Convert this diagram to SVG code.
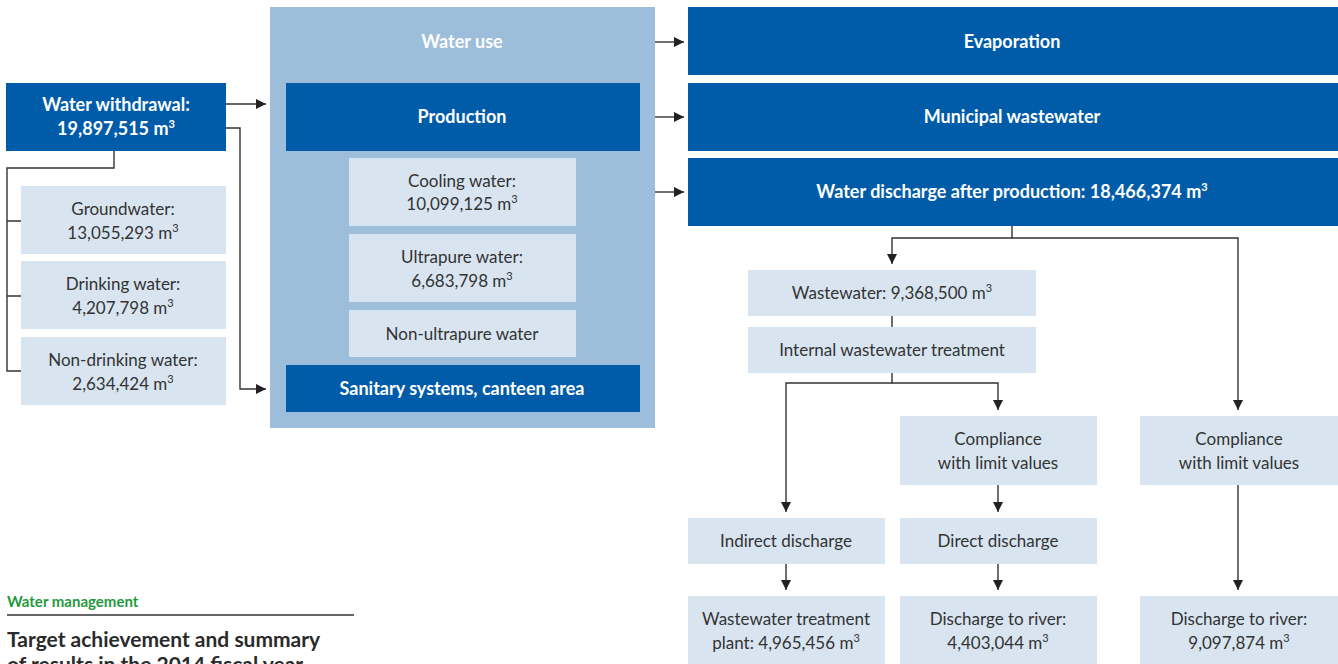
<svg xmlns="http://www.w3.org/2000/svg" width="1338" height="664" viewBox="0 0 1338 664">
<style>
text{font-family:"Source Sans Pro","Lato","Noto Sans",sans-serif;font-size:17px;text-anchor:middle}
.d{fill:#005ca9}
.l{fill:#d8e5f1}
.c{fill:#9cbedb}
.w{fill:#fff;font-weight:bold;font-size:18px}
.k{fill:#333}
.sup{font-size:11px}
.ln{fill:none;stroke:#333;stroke-width:1.4}
</style>
<defs>
<marker id="a" viewBox="0 0 10 10" refX="10" refY="5" markerWidth="10" markerHeight="10" markerUnits="userSpaceOnUse" orient="auto">
<path d="M0,0 L10,5 L0,10 Z" fill="#222"/>
</marker>
</defs>
<rect x="0" y="0" width="1338" height="664" fill="#fff"/>

<g id="water-use">
<rect class="c" x="270" y="7" width="385" height="421"/>
<text class="w" x="462" y="48">Water use</text>
</g>
<g id="production">
<rect class="d" x="286" y="83" width="354" height="68"/>
<text class="w" x="462" y="123">Production</text>
</g>
<g id="cooling">
<rect class="l" x="349" y="158" width="227" height="68"/>
<text class="k" x="462" y="187">Cooling water:</text>
<text class="k" x="462" y="210">10,099,125 m<tspan class="sup" dy="-7">3</tspan></text>
</g>
<g id="ultrapure">
<rect class="l" x="349" y="234" width="227" height="68"/>
<text class="k" x="462" y="263">Ultrapure water:</text>
<text class="k" x="462" y="287">6,683,798 m<tspan class="sup" dy="-7">3</tspan></text>
</g>
<g id="non-ultrapure">
<rect class="l" x="349" y="310" width="227" height="47"/>
<text class="k" x="462" y="340">Non-ultrapure water</text>
</g>
<g id="sanitary">
<rect class="d" x="286" y="365" width="354" height="47"/>
<text class="w" x="462" y="395">Sanitary systems, canteen area</text>
</g>

<g id="withdrawal">
<rect class="d" x="6" y="83" width="220" height="68"/>
<text class="w" x="116" y="111">Water withdrawal:</text>
<text class="w" x="116" y="135">19,897,515 m<tspan class="sup" dy="-7">3</tspan></text>
</g>
<g id="groundwater">
<rect class="l" x="21" y="186" width="205" height="68"/>
<text class="k" x="123" y="215">Groundwater:</text>
<text class="k" x="123" y="239">13,055,293 m<tspan class="sup" dy="-7">3</tspan></text>
</g>
<g id="drinking">
<rect class="l" x="21" y="261" width="205" height="68"/>
<text class="k" x="123" y="290">Drinking water:</text>
<text class="k" x="123" y="314">4,207,798 m<tspan class="sup" dy="-7">3</tspan></text>
</g>
<g id="non-drinking">
<rect class="l" x="21" y="337" width="205" height="68"/>
<text class="k" x="123" y="366">Non-drinking water:</text>
<text class="k" x="123" y="390">2,634,424 m<tspan class="sup" dy="-7">3</tspan></text>
</g>

<g id="evaporation">
<rect class="d" x="688" y="7" width="650" height="68"/>
<text class="w" x="1012" y="48">Evaporation</text>
</g>
<g id="municipal">
<rect class="d" x="688" y="83" width="650" height="68"/>
<text class="w" x="1012" y="123">Municipal wastewater</text>
</g>
<g id="discharge">
<rect class="d" x="688" y="158" width="650" height="68"/>
<text class="w" x="1012" y="198">Water discharge after production: 18,466,374 m<tspan class="sup" dy="-7">3</tspan></text>
</g>
<g id="wastewater">
<rect class="l" x="748" y="270" width="288" height="46"/>
<text class="k" x="892" y="299">Wastewater: 9,368,500 m<tspan class="sup" dy="-7">3</tspan></text>
</g>
<g id="internal">
<rect class="l" x="748" y="327" width="288" height="46"/>
<text class="k" x="892" y="356">Internal wastewater treatment</text>
</g>
<g id="compliance1">
<rect class="l" x="900" y="416" width="197" height="69"/>
<text class="k" x="998" y="445">Compliance</text>
<text class="k" x="998" y="469">with limit values</text>
</g>
<g id="compliance2">
<rect class="l" x="1140" y="416" width="198" height="69"/>
<text class="k" x="1239" y="445">Compliance</text>
<text class="k" x="1239" y="469">with limit values</text>
</g>
<g id="indirect">
<rect class="l" x="688" y="518" width="197" height="46"/>
<text class="k" x="786" y="547">Indirect discharge</text>
</g>
<g id="direct">
<rect class="l" x="900" y="518" width="197" height="46"/>
<text class="k" x="998" y="547">Direct discharge</text>
</g>
<g id="treatment-plant">
<rect class="l" x="688" y="596" width="197" height="68"/>
<text class="k" x="786" y="625">Wastewater treatment</text>
<text class="k" x="786" y="649">plant: 4,965,456 m<tspan class="sup" dy="-7">3</tspan></text>
</g>
<g id="river1">
<rect class="l" x="900" y="596" width="197" height="68"/>
<text class="k" x="998" y="625">Discharge to river:</text>
<text class="k" x="998" y="649">4,403,044 m<tspan class="sup" dy="-7">3</tspan></text>
</g>
<g id="river2">
<rect class="l" x="1140" y="596" width="198" height="68"/>
<text class="k" x="1239" y="625">Discharge to river:</text>
<text class="k" x="1239" y="649">9,097,874 m<tspan class="sup" dy="-7">3</tspan></text>
</g>

<g id="connectors">
<path class="ln" d="M114,151 V168 H7 V371 H21 M7,221 H21 M7,296 H21"/>
<path class="ln" d="M226,104 H266" marker-end="url(#a)"/>
<path class="ln" d="M226,128 H240 V389 H266" marker-end="url(#a)"/>
<path class="ln" d="M655,42 H684" marker-end="url(#a)"/>
<path class="ln" d="M655,117 H684" marker-end="url(#a)"/>
<path class="ln" d="M655,192 H684" marker-end="url(#a)"/>
<path class="ln" d="M1012,226 V238 H892 V264" marker-end="url(#a)"/>
<path class="ln" d="M1012,238 H1238 V410" marker-end="url(#a)"/>
<path class="ln" d="M892,316 V327"/>
<path class="ln" d="M892,373 V383 H786 V512" marker-end="url(#a)"/>
<path class="ln" d="M892,383 H998 V410" marker-end="url(#a)"/>
<path class="ln" d="M998,485 V512" marker-end="url(#a)"/>
<path class="ln" d="M786,564 V590" marker-end="url(#a)"/>
<path class="ln" d="M998,564 V590" marker-end="url(#a)"/>
<path class="ln" d="M1238,485 V590" marker-end="url(#a)"/>
</g>

<g id="caption">
<text x="7" y="607" style="text-anchor:start;font-size:15px;font-weight:bold;fill:#1f9a3e">Water management</text>
<line x1="7" y1="615" x2="354" y2="615" stroke="#333" stroke-width="1.4"/>
<text x="7" y="647" style="text-anchor:start;font-size:21px;font-weight:bold;fill:#2a2a2a">Target achievement and summary</text>
<text x="7" y="672" style="text-anchor:start;font-size:21px;font-weight:bold;fill:#2a2a2a">of results in the 2014 fiscal year</text>
</g>
</svg>
